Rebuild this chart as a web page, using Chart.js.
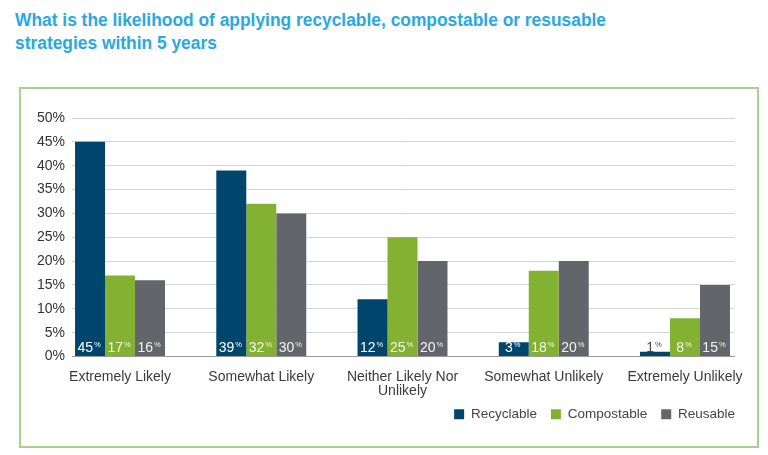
<!DOCTYPE html>
<html><head><meta charset="utf-8">
<script src="https://cdn.jsdelivr.net/npm/chart.js@4"></script>
<style>
html,body{margin:0;padding:0;background:#fff;width:768px;height:455px;overflow:hidden;}
#title{position:absolute;left:15px;top:9px;font-family:"Liberation Sans Narrow","Liberation Sans",sans-serif;font-weight:bold;font-size:18px;line-height:23px;color:#29A9E0;white-space:nowrap;transform-origin:0 0;}
#frame{position:absolute;left:19px;top:87px;width:736px;height:357px;border:2px solid #A9D18E;}
#wrap{position:absolute;left:0;top:0;width:768px;height:455px;}
</style></head><body>
<div id="frame"></div>
<div id="title"><div id="t1">What is the likelihood of applying recyclable, compostable or resusable</div><div>strategies within 5 years</div></div>
<div id="wrap"><canvas id="c" width="768" height="455"></canvas></div>
<script>
const categories = ['Extremely Likely', 'Somewhat Likely', ['Neither Likely Nor', 'Unlikely'], 'Somewhat Unlikely', 'Extremely Unlikely'];
const seriesNames = ['Recyclable', 'Compostable', 'Reusable'];
const recyclable = [45, 39, 12, 3, 1];
const compostable = [17, 32, 25, 18, 8];
const reusable = [16, 30, 20, 20, 15];
const yTickValues = [0, 5, 10, 15, 20, 25, 30, 35, 40, 45, 50];

const colors = ['#00466C', '#83B233', '#62666B'];
const labelColors = ['#ffffff', '#f2f7e8', '#f2f2f2'];
const FONT = '"Liberation Sans", Arial, sans-serif';

// fit title width
(function(){
  const t = document.getElementById('title');
  const w = document.getElementById('t1').getBoundingClientRect().width;
  t.style.transform = 'scaleX(' + (591 / w) + ')';
})();

const toPoints = arr => arr.map((v, i) => ({x: i, y: v}));
const seriesValues = [recyclable, compostable, reusable];

const labelPlugin = {
  id: 'barLabels',
  afterDatasetsDraw(chart) {
    const ctx = chart.ctx;
    ctx.save();
    chart.data.datasets.forEach((ds, di) => {
      const meta = chart.getDatasetMeta(di);
      meta.data.forEach((bar, i) => {
        const v = String(seriesValues[di][i]);
        const numFont = '14px ' + FONT;
        const pctFont = '7.5px ' + FONT;
        ctx.font = numFont; const w1 = ctx.measureText(v).width;
        ctx.font = pctFont; const w2 = ctx.measureText('%').width;
        const total = w1 + 1 + w2;
        const x0 = bar.x - total / 2 - 1;
        const y = bar.base - 4;
        const h = bar.base - bar.y;
        ctx.fillStyle = h < 8 ? '#4a4a4a' : labelColors[di];
        ctx.textAlign = 'left';
        ctx.textBaseline = 'alphabetic';
        ctx.font = numFont; ctx.fillText(v, x0, y);
        ctx.font = pctFont; ctx.fillText('%', x0 + w1 + 1, y - 5);
      });
    });
    ctx.restore();
  }
};

const legendShift = {
  id: 'legendShift',
  afterLayout(chart) {
    const lg = chart.legend;
    if (lg) { lg.right += 14; lg.top -= 7; lg.bottom -= 7; }
  }
};

new Chart(document.getElementById('c'), {
  type: 'bar',
  data: {
    datasets: seriesNames.map((name, i) => ({
      label: name,
      data: toPoints(seriesValues[i]),
      backgroundColor: colors[i],
      borderWidth: 0,
      barPercentage: 1,
      categoryPercentage: 0.637
    }))
  },
  plugins: [labelPlugin, legendShift],
  options: {
    responsive: false,
    animation: false,
    events: [],
    layout: { padding: { left: 0, right: 33, top: 118, bottom: 17 } },
    plugins: {
      tooltip: { enabled: false },
      legend: {
        position: 'bottom',
        align: 'end',
        labels: {
          boxWidth: 10, boxHeight: 10, padding: 14,
          color: '#444', font: { family: FONT, size: 13.5 }
        }
      }
    },
    scales: {
      x: {
        type: 'linear',
        min: -0.34, max: 4.354,
        offset: false,
        grid: { display: false, drawTicks: false },
        border: { display: false },
        afterFit(scale) { scale.height = 44; },
        ticks: {
          stepSize: 1,
          includeBounds: false,
          autoSkip: false,
          maxRotation: 0,
          padding: 13,
          color: '#3a3a3a',
          font: { family: FONT, size: 14, lineHeight: 1.05 },
          callback: v => (Number.isInteger(v) && categories[v] !== undefined) ? categories[v] : ''
        }
      },
      y: {
        min: 0, max: 50,
        afterFit(scale) { scale.width = 72; },
        afterBuildTicks(scale) { scale.ticks = yTickValues.map(v => ({value: v})); },
        grid: {
          drawTicks: false,
          lineWidth: 1,
          color: c => c.tick.value === 0 ? '#9a9a9a' : (c.tick.value === 50 ? '#d0d0d0' : '#d6d6d6')
        },
        border: { display: false },
        ticks: {
          padding: 7,
          color: '#333',
          font: { family: FONT, size: 14 },
          callback: v => v + '%'
        }
      }
    }
  }
});
</script>
</body></html>
